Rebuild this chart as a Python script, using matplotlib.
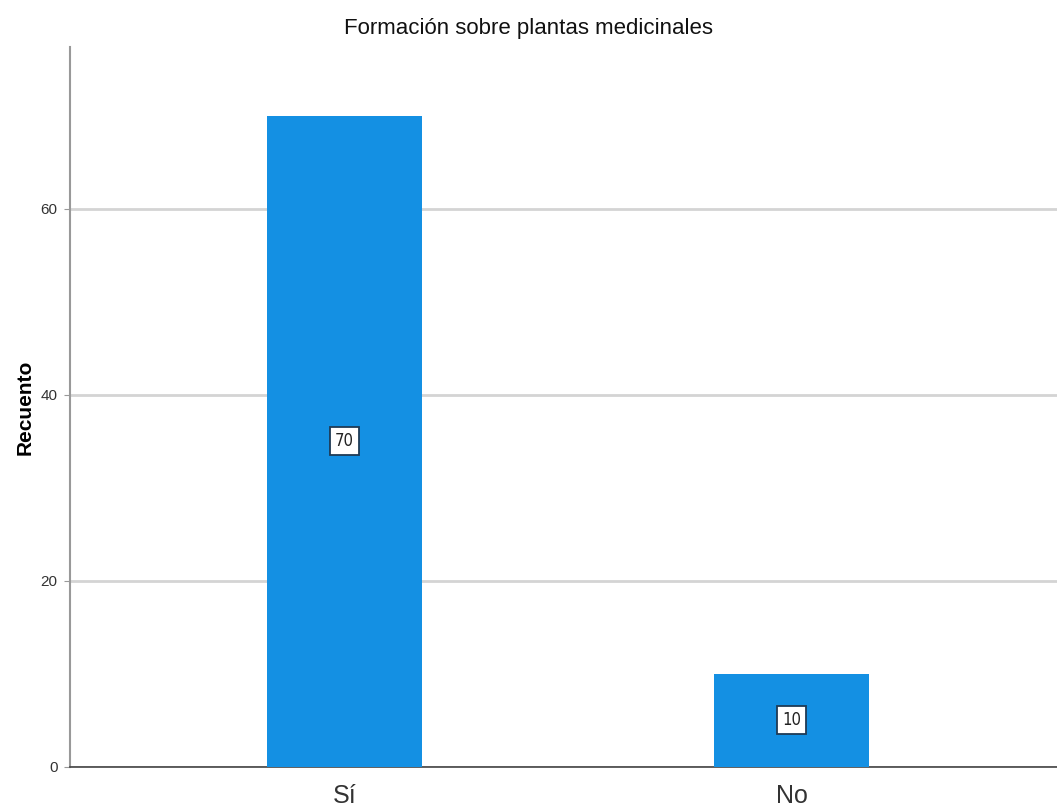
import matplotlib.pyplot as plt

categories = ["Sí", "No"]
counts = [70, 10]

FONT = ["Liberation Sans", "DejaVu Sans"]
BAR_COLOR = "#1490e3"

fig = plt.figure(figsize=(10.57, 8.07), dpi=100)
ax = fig.add_axes([0.0662, 0.0496, 0.9338, 0.8922])

x = list(range(len(categories)))
ax.bar(x, counts, width=0.347, color=BAR_COLOR, zorder=3)

# counts written in the middle of each bar
for xi, c in zip(x, counts):
    ax.text(xi, c / 2, str(c), ha="center", va="center", fontsize=12,
            family=["DejaVu Sans"], stretch="condensed", color="#222222", zorder=4,
            bbox=dict(boxstyle="square,pad=0.3", fc="white", ec="#1f3a55", lw=1.3))

ax.set_xlim(-0.614, 1.594)
ax.set_ylim(0, 77.4)
ax.set_yticks([0, 20, 40, 60])
ax.set_xticks(x)
ax.set_xticklabels(categories, family=FONT, fontsize=18, color="#333333")
for lbl in ax.get_yticklabels():
    lbl.set_family(FONT)
    lbl.set_fontsize(11)
    lbl.set_color("#333333")

ax.grid(axis="y", color="#d4d4d4", linewidth=2, zorder=0)
ax.tick_params(axis="y", length=4, color="#999999", pad=5)
ax.tick_params(axis="x", length=0, pad=12)

for side in ["top", "right"]:
    ax.spines[side].set_visible(False)
ax.spines["left"].set_color("#999999")
ax.spines["left"].set_linewidth(1.5)
ax.spines["bottom"].set_color("#444444")
ax.spines["bottom"].set_linewidth(1.2)

ax.set_ylabel("Recuento", fontsize=15, fontweight="bold", family=FONT)
ax.yaxis.set_label_coords(-0.036, 0.5)
fig.text(0.5, 0.965, "Formación sobre plantas medicinales", ha="center", va="center",
         fontsize=16, family=FONT, color="#111111")

fig.savefig("out.png", dpi=100)
